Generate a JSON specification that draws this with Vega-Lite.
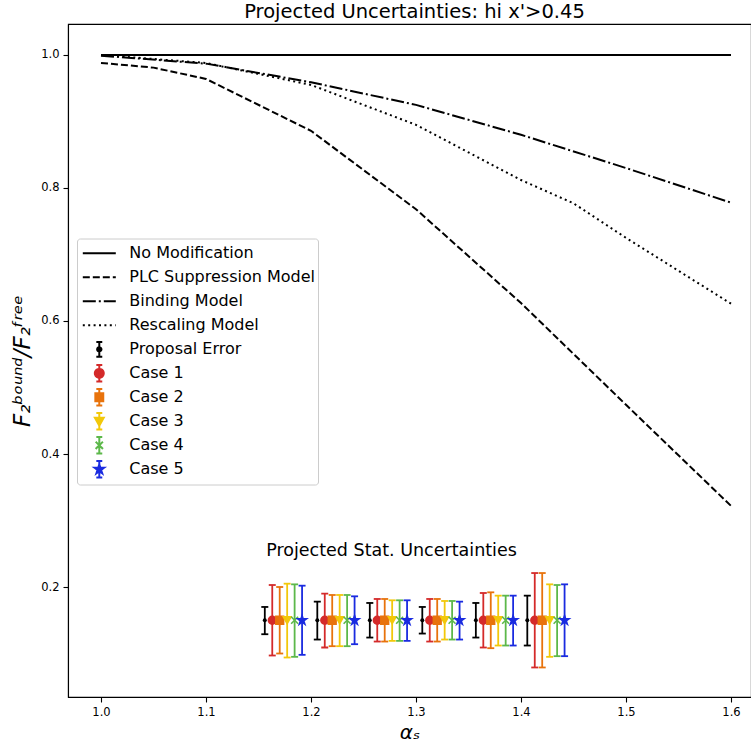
{
  "$schema": "https://vega.github.io/schema/vega-lite/v6.json",
  "width": 683,
  "height": 673,
  "autosize": {"type": "none"},
  "padding": {"left": 68, "top": 24, "right": 0, "bottom": 49},
  "background": "white",
  "config": {
    "font": "DejaVu Sans",
    "view": {"stroke": "black", "strokeWidth": 1.1},
    "axis": {"grid": false, "domainColor": "black", "tickColor": "black", "labelColor": "black", "titleColor": "black", "labelFont": "DejaVu Sans", "labelFontSize": 11.5, "tickSize": 5, "labelPadding": 4, "domainWidth": 1.1, "tickWidth": 1.1, "titleFont": "DejaVu Sans", "titleFontSize": 20, "titleFontWeight": "normal", "titleFontStyle": "italic"}
  },
  "title": {"text": "Projected Uncertainties: hi x'>0.45", "fontSize": 19.5, "fontWeight": "normal", "font": "DejaVu Sans", "color": "black", "anchor": "middle", "offset": 2, "dx": 5},
  "datasets": {
    "curves": [
      {"series": "No Modification", "x": 1.0, "y": 1.0},
      {"series": "No Modification", "x": 1.1, "y": 1.0},
      {"series": "No Modification", "x": 1.2, "y": 1.0},
      {"series": "No Modification", "x": 1.3, "y": 1.0},
      {"series": "No Modification", "x": 1.4, "y": 1.0},
      {"series": "No Modification", "x": 1.5, "y": 1.0},
      {"series": "No Modification", "x": 1.6, "y": 1.0},
      {"series": "PLC Suppression Model", "x": 1.0, "y": 0.988},
      {"series": "PLC Suppression Model", "x": 1.05, "y": 0.981},
      {"series": "PLC Suppression Model", "x": 1.1, "y": 0.964},
      {"series": "PLC Suppression Model", "x": 1.2, "y": 0.886},
      {"series": "PLC Suppression Model", "x": 1.3, "y": 0.768},
      {"series": "PLC Suppression Model", "x": 1.4, "y": 0.627},
      {"series": "PLC Suppression Model", "x": 1.5, "y": 0.474},
      {"series": "PLC Suppression Model", "x": 1.6, "y": 0.322},
      {"series": "Binding Model", "x": 1.0, "y": 0.999},
      {"series": "Binding Model", "x": 1.1, "y": 0.987},
      {"series": "Binding Model", "x": 1.2, "y": 0.959},
      {"series": "Binding Model", "x": 1.3, "y": 0.925},
      {"series": "Binding Model", "x": 1.4, "y": 0.880},
      {"series": "Binding Model", "x": 1.5, "y": 0.830},
      {"series": "Binding Model", "x": 1.6, "y": 0.778},
      {"series": "Rescaling Model", "x": 1.0, "y": 1.0},
      {"series": "Rescaling Model", "x": 1.1, "y": 0.988},
      {"series": "Rescaling Model", "x": 1.2, "y": 0.955},
      {"series": "Rescaling Model", "x": 1.3, "y": 0.895},
      {"series": "Rescaling Model", "x": 1.4, "y": 0.812},
      {"series": "Rescaling Model", "x": 1.45, "y": 0.777},
      {"series": "Rescaling Model", "x": 1.5, "y": 0.725},
      {"series": "Rescaling Model", "x": 1.6, "y": 0.626}
    ],
    "bars": [
      {"series": "Proposal Error", "x": 1.156, "y": 0.15, "lo": 0.129, "hi": 0.170},
      {"series": "Case 1", "x": 1.1631, "y": 0.15, "lo": 0.097, "hi": 0.203},
      {"series": "Case 2", "x": 1.1702, "y": 0.15, "lo": 0.100, "hi": 0.200},
      {"series": "Case 3", "x": 1.1773, "y": 0.15, "lo": 0.094, "hi": 0.205},
      {"series": "Case 4", "x": 1.1844, "y": 0.15, "lo": 0.095, "hi": 0.204},
      {"series": "Case 5", "x": 1.1915, "y": 0.15, "lo": 0.098, "hi": 0.202},
      {"series": "Proposal Error", "x": 1.206, "y": 0.15, "lo": 0.121, "hi": 0.178},
      {"series": "Case 1", "x": 1.2131, "y": 0.15, "lo": 0.109, "hi": 0.190},
      {"series": "Case 2", "x": 1.2202, "y": 0.15, "lo": 0.111, "hi": 0.188},
      {"series": "Case 3", "x": 1.2273, "y": 0.15, "lo": 0.111, "hi": 0.188},
      {"series": "Case 4", "x": 1.2344, "y": 0.15, "lo": 0.111, "hi": 0.188},
      {"series": "Case 5", "x": 1.2415, "y": 0.15, "lo": 0.114, "hi": 0.186},
      {"series": "Proposal Error", "x": 1.256, "y": 0.15, "lo": 0.124, "hi": 0.176},
      {"series": "Case 1", "x": 1.2631, "y": 0.15, "lo": 0.118, "hi": 0.182},
      {"series": "Case 2", "x": 1.2702, "y": 0.15, "lo": 0.118, "hi": 0.182},
      {"series": "Case 3", "x": 1.2773, "y": 0.15, "lo": 0.119, "hi": 0.180},
      {"series": "Case 4", "x": 1.2844, "y": 0.15, "lo": 0.119, "hi": 0.180},
      {"series": "Case 5", "x": 1.2915, "y": 0.15, "lo": 0.119, "hi": 0.180},
      {"series": "Proposal Error", "x": 1.306, "y": 0.15, "lo": 0.130, "hi": 0.170},
      {"series": "Case 1", "x": 1.3131, "y": 0.15, "lo": 0.118, "hi": 0.182},
      {"series": "Case 2", "x": 1.3202, "y": 0.15, "lo": 0.118, "hi": 0.182},
      {"series": "Case 3", "x": 1.3273, "y": 0.15, "lo": 0.121, "hi": 0.179},
      {"series": "Case 4", "x": 1.3344, "y": 0.15, "lo": 0.121, "hi": 0.179},
      {"series": "Case 5", "x": 1.3415, "y": 0.15, "lo": 0.121, "hi": 0.178},
      {"series": "Proposal Error", "x": 1.357, "y": 0.15, "lo": 0.124, "hi": 0.176},
      {"series": "Case 1", "x": 1.3641, "y": 0.15, "lo": 0.109, "hi": 0.191},
      {"series": "Case 2", "x": 1.3712, "y": 0.15, "lo": 0.108, "hi": 0.192},
      {"series": "Case 3", "x": 1.3783, "y": 0.15, "lo": 0.112, "hi": 0.187},
      {"series": "Case 4", "x": 1.3854, "y": 0.15, "lo": 0.112, "hi": 0.187},
      {"series": "Case 5", "x": 1.3925, "y": 0.15, "lo": 0.112, "hi": 0.187},
      {"series": "Proposal Error", "x": 1.406, "y": 0.15, "lo": 0.112, "hi": 0.187},
      {"series": "Case 1", "x": 1.4131, "y": 0.15, "lo": 0.079, "hi": 0.221},
      {"series": "Case 2", "x": 1.4202, "y": 0.15, "lo": 0.079, "hi": 0.221},
      {"series": "Case 3", "x": 1.4273, "y": 0.15, "lo": 0.095, "hi": 0.204},
      {"series": "Case 4", "x": 1.4344, "y": 0.15, "lo": 0.096, "hi": 0.203},
      {"series": "Case 5", "x": 1.4415, "y": 0.15, "lo": 0.096, "hi": 0.204}
    ],
    "notes": [
      {"label": "Projected Stat. Uncertainties", "x": 1.2767, "y": 0.247}
    ]
  },
  "layer": [
    {
      "data": {"name": "curves"},
      "mark": {"type": "line", "strokeWidth": 2, "color": "black"},
      "encoding": {
        "x": {"field": "x", "type": "quantitative", "scale": {"domain": [0.96857, 1.61905], "nice": false, "zero": false}, "axis": {"values": [1.0, 1.1, 1.2, 1.3, 1.4, 1.5, 1.6], "format": ".1f", "title": "αₛ", "titlePadding": 5}},
        "y": {"field": "y", "type": "quantitative", "scale": {"domain": [0.0346, 1.0466], "nice": false, "zero": false}, "axis": {"values": [0.2, 0.4, 0.6, 0.8, 1.0], "format": ".1f", "title": "F₂ᵇᵒᵘⁿᵈ/F₂ᶠʳᵉᵉ", "titleFontSize": 23, "titlePadding": 6}},
        "strokeDash": {
          "field": "series", "type": "nominal",
          "scale": {
            "domain": ["No Modification", "PLC Suppression Model", "Binding Model", "Rescaling Model", "Proposal Error", "Case 1", "Case 2", "Case 3", "Case 4", "Case 5"],
            "range": [[1, 0], [7, 3], [13, 3, 2, 3], [2, 3.4], [1, 0], [1, 0], [1, 0], [1, 0], [1, 0], [1, 0]]
          },
          "legend": {
            "orient": "none",
            "legendX": 9,
            "legendY": 214.5,
            "title": null,
            "padding": 3,
            "strokeColor": "#cccccc",
            "fillColor": "rgba(255,255,255,0.8)",
            "cornerRadius": 3,
            "labelFont": "DejaVu Sans",
            "labelFontSize": 16,
            "labelColor": "black",
            "labelOffset": 12.5,
            "symbolOffset": 1.8,
            "symbolSize": 1089,
            "symbolStrokeWidth": 2,
            "symbolOpacity": 1,
            "clipHeight": 23.6,
            "rowPadding": 0,
            "labelLimit": 400,
            "encoding": {
              "symbols": {
                "shape": {"value": {"expr": "['M-1,0H1','M-1,0H1','M-1,0H1','M-1,0H1','M-0.18,-0.45H0.18M0,-0.45V0.45M-0.18,0.45H0.18M0.13,0A0.13,0.13,0,1,1,-0.13,0A0.13,0.13,0,1,1,0.13,0Z','M-0.18,-0.5H0.18M0,-0.5V0.5M-0.18,0.5H0.18M0.27,0A0.27,0.27,0,1,1,-0.27,0A0.27,0.27,0,1,1,0.27,0Z','M-0.18,-0.5H0.18M0,-0.5V0.5M-0.18,0.5H0.18M-0.24,-0.24H0.24V0.24H-0.24Z','M-0.18,-0.5H0.18M0,-0.5V0.5M-0.18,0.5H0.18M-0.27,-0.22H0.27L0,0.27Z','M-0.18,-0.5H0.18M0,-0.5V0.5M-0.18,0.5H0.18M-0.22,-0.22L0.22,0.22M0.22,-0.22L-0.22,0.22','M-0.18,-0.5H0.18M0,-0.5V0.5M-0.18,0.5H0.18M0,-0.3L0.067,-0.092L0.285,-0.093L0.108,0.035L0.176,0.243L0,0.114L-0.176,0.243L-0.108,0.035L-0.285,-0.093L-0.067,-0.092Z'][indexof(['No Modification','PLC Suppression Model','Binding Model','Rescaling Model','Proposal Error','Case 1','Case 2','Case 3','Case 4','Case 5'], datum.value)]"}},
                "fill": {"value": {"expr": "['transparent','transparent','transparent','transparent','#000000','#d42a2a','#e8730c','#f2c80a','#5cb84a','#1a2be0'][indexof(['No Modification','PLC Suppression Model','Binding Model','Rescaling Model','Proposal Error','Case 1','Case 2','Case 3','Case 4','Case 5'], datum.value)]"}},
                "stroke": {"value": {"expr": "['#000000','#000000','#000000','#000000','#000000','#d42a2a','#e8730c','#f2c80a','#5cb84a','#1a2be0'][indexof(['No Modification','PLC Suppression Model','Binding Model','Rescaling Model','Proposal Error','Case 1','Case 2','Case 3','Case 4','Case 5'], datum.value)]"}},
                "opacity": {"value": 1}
              }
            }
          }
        }
      }
    },
    {
      "data": {"name": "bars"},
      "mark": {"type": "rule", "strokeWidth": 1.8, "opacity": 1},
      "encoding": {
        "x": {"field": "x", "type": "quantitative"},
        "y": {"field": "lo", "type": "quantitative"},
        "y2": {"field": "hi"},
        "color": {"field": "series", "type": "nominal", "scale": {"domain": ["Proposal Error", "Case 1", "Case 2", "Case 3", "Case 4", "Case 5"], "range": ["#000000", "#d42a2a", "#e8730c", "#f2c80a", "#5cb84a", "#1a2be0"]}, "legend": null}
      }
    },
    {
      "data": {"name": "bars"},
      "mark": {"type": "tick", "orient": "horizontal", "size": 7, "thickness": 1.8, "opacity": 1},
      "encoding": {
        "x": {"field": "x", "type": "quantitative"},
        "y": {"field": "lo", "type": "quantitative"},
        "color": {"field": "series", "type": "nominal", "legend": null}
      }
    },
    {
      "data": {"name": "bars"},
      "mark": {"type": "tick", "orient": "horizontal", "size": 7, "thickness": 1.8, "opacity": 1},
      "encoding": {
        "x": {"field": "x", "type": "quantitative"},
        "y": {"field": "hi", "type": "quantitative"},
        "color": {"field": "series", "type": "nominal", "legend": null}
      }
    },
    {
      "data": {"name": "bars"},
      "transform": [{"filter": "datum.series != 'Proposal Error'"}],
      "mark": {"type": "point", "filled": true, "size": 60, "strokeWidth": 1.6, "opacity": 1},
      "encoding": {
        "x": {"field": "x", "type": "quantitative"},
        "y": {"field": "y", "type": "quantitative"},
        "color": {"field": "series", "type": "nominal", "legend": null},
        "stroke": {"field": "series", "type": "nominal", "scale": {"domain": ["Proposal Error", "Case 1", "Case 2", "Case 3", "Case 4", "Case 5"], "range": ["#000000", "#d42a2a", "#e8730c", "#f2c80a", "#5cb84a", "#1a2be0"]}, "legend": null},
        "shape": {
          "field": "series", "type": "nominal",
          "scale": {
            "domain": ["Proposal Error", "Case 1", "Case 2", "Case 3", "Case 4", "Case 5"],
            "range": ["circle", "circle", "square", "triangle-down", "M-0.9,-0.9L0.9,0.9M0.9,-0.9L-0.9,0.9", "M0,-1.2L0.268,-0.368L1.141,-0.371L0.433,0.14L0.706,0.971L0,0.456L-0.706,0.971L-0.433,0.14L-1.141,-0.371L-0.268,-0.368Z"]
          },
          "legend": null
        }
      }
    },
    {
      "data": {"name": "bars"},
      "transform": [{"filter": "datum.series == 'Proposal Error'"}],
      "mark": {"type": "point", "filled": true, "size": 16, "opacity": 1},
      "encoding": {
        "x": {"field": "x", "type": "quantitative"},
        "y": {"field": "y", "type": "quantitative"},
        "color": {"field": "series", "type": "nominal", "legend": null},
        "shape": {"field": "series", "type": "nominal", "legend": null}
      }
    },
    {
      "data": {"name": "notes"},
      "mark": {"type": "text", "font": "DejaVu Sans", "fontSize": 17.5, "align": "center", "baseline": "alphabetic", "color": "black"},
      "encoding": {
        "x": {"field": "x", "type": "quantitative"},
        "y": {"field": "y", "type": "quantitative"},
        "text": {"field": "label"}
      }
    }
  ]
}
